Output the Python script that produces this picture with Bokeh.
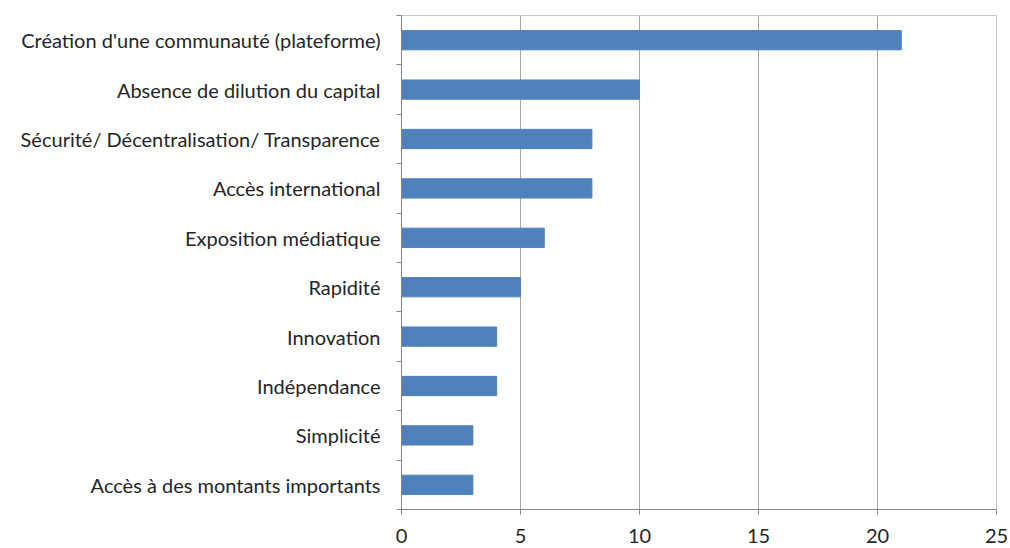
from bokeh.plotting import figure
from bokeh.models import FixedTicker, Range1d
from bokeh.embed import file_html
from bokeh.resources import INLINE

# Data (top to bottom as in the chart)
categories = [
    "Création d'une communauté (plateforme)",
    "Absence de dilution du capital",
    "Sécurité/ Décentralisation/ Transparence",
    "Accès international",
    "Exposition médiatique",
    "Rapidité",
    "Innovation",
    "Indépendance",
    "Simplicité",
    "Accès à des montants importants",
]
values = [21, 10, 8, 8, 6, 5, 4, 4, 3, 3]
x_ticks = [0, 5, 10, 15, 20, 25]

n = len(categories)
# bottom category at position 0, top at n-1
positions = [n - 1 - i for i in range(n)]

FONT = "Lato"
TEXT_COLOR = "#262626"
GRID = "#A6A6A6"

p = figure(
    width=1010, height=548,
    output_backend="svg", toolbar_location=None,
    x_range=Range1d(0, 25), y_range=Range1d(-0.5, n - 0.5),
    min_border_left=401, min_border_right=14,
    min_border_top=15, min_border_bottom=39,
)
p.background_fill_color = "white"
p.border_fill_color = "white"
p.outline_line_color = "#C8C8C8"

p.hbar(y=positions, right=values, left=0, height=0.39,
       fill_color="#4F81BD", line_color="#4F81BD")

# x axis
p.xaxis.ticker = FixedTicker(ticks=x_ticks)
p.xaxis.major_tick_out = 5
p.xaxis.major_tick_in = 0
p.xaxis.minor_tick_out = 0
p.xaxis.minor_tick_in = 0
p.xaxis.axis_line_color = "#868686"
p.xaxis.major_tick_line_color = "#868686"
p.xaxis.major_label_text_font = FONT
p.xaxis.major_label_text_font_size = "20px"
p.xaxis.major_label_text_color = TEXT_COLOR
p.xaxis.major_label_standoff = 14

# y axis: labels at category centres, tick marks between categories
p.yaxis.ticker = FixedTicker(ticks=list(range(n)),
                             minor_ticks=[k - 0.5 for k in range(n + 1)])
p.yaxis.major_label_overrides = {pos: cat for pos, cat in zip(positions, categories)}
p.yaxis.major_tick_out = 0
p.yaxis.major_tick_in = 0
p.yaxis.minor_tick_out = 5
p.yaxis.minor_tick_in = 0
p.yaxis.minor_tick_line_color = "#868686"
p.yaxis.axis_line_color = "#868686"
p.yaxis.major_label_text_font = FONT
p.yaxis.major_label_text_font_size = "20px"
p.yaxis.major_label_text_color = TEXT_COLOR
p.yaxis.major_label_standoff = 16

p.xgrid.ticker = FixedTicker(ticks=x_ticks)
p.xgrid.grid_line_color = GRID
p.ygrid.grid_line_color = None

open("out.html", "w").write(file_html(p, INLINE))
